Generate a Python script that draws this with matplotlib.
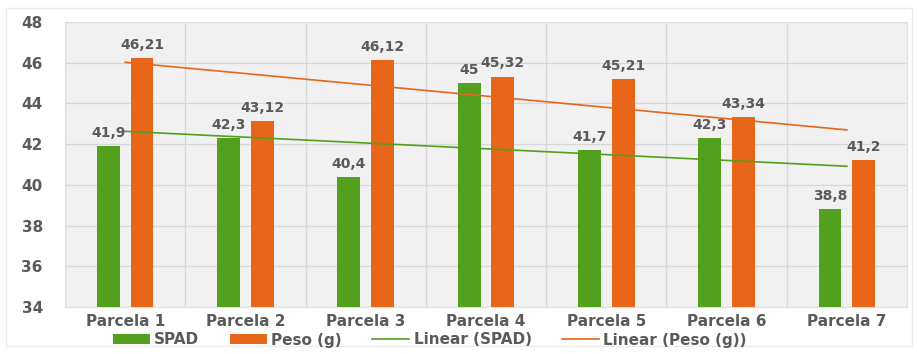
import numpy as np
import matplotlib.pyplot as plt
from matplotlib.patches import Rectangle

parcelas = ['Parcela 1', 'Parcela 2', 'Parcela 3', 'Parcela 4', 'Parcela 5', 'Parcela 6', 'Parcela 7']
spad = [41.9, 42.3, 40.4, 45.0, 41.7, 42.3, 38.8]
peso = [46.21, 43.12, 46.12, 45.32, 45.21, 43.34, 41.2]
spad_lbl = ['41,9', '42,3', '40,4', '45', '41,7', '42,3', '38,8']
peso_lbl = ['46,21', '43,12', '46,12', '45,32', '45,21', '43,34', '41,2']

green = '#52a01e'
orange = '#e8661a'
txt = '#5a5a5a'

fig = plt.figure(figsize=(9.17, 3.54), dpi=100)
fig.patches.append(Rectangle((6 / 917, 8 / 354), 906 / 917, 338 / 354, transform=fig.transFigure,
                             fill=False, edgecolor='#ebebeb', lw=1))
ax = fig.add_axes([65 / 917, 1 - 307 / 354, 842 / 917, 285 / 354])
ax.set_facecolor('#f1f1f1')

x = np.arange(1, len(parcelas) + 1)
w = 0.19
off = 0.14
ax.bar(x - off, spad, w, color=green, label='SPAD', zorder=3)
ax.bar(x + off, peso, w, color=orange, label='Peso (g)', zorder=3)

# linear trend lines (like the spreadsheet trendline)
for vals, col, name in [(spad, green, 'Linear (SPAD)'), (peso, orange, 'Linear (Peso (g))')]:
    a, b = np.polyfit(x, vals, 1)
    ax.plot(x[[0, -1]], a * x[[0, -1]] + b, color=col, lw=1.2, zorder=4, label=name)

for xi, v, s in zip(x - off, spad, spad_lbl):
    ax.text(xi, v + 0.3, s, ha='center', va='bottom', color=txt, fontsize=10, fontweight='bold', zorder=5)
for xi, v, s in zip(x + off, peso, peso_lbl):
    ax.text(xi, v + 0.3, s, ha='center', va='bottom', color=txt, fontsize=10, fontweight='bold', zorder=5)

ax.set_xlim(0.5, 7.5)
ax.set_ylim(34, 48)
ax.set_yticks(range(34, 49, 2))
ax.set_xticks(x)
ax.set_xticklabels(parcelas)
ax.set_xticks(np.arange(0.5, 8, 1), minor=True)
ax.grid(axis='y', which='major', color='#d8d8d8', lw=0.9, zorder=0)
ax.grid(axis='x', which='minor', color='#d8d8d8', lw=0.9, zorder=0)
ax.tick_params(which='both', length=0)
ax.tick_params(axis='y', pad=16, labelsize=11, labelcolor=txt)
ax.tick_params(axis='x', pad=5, labelsize=11, labelcolor=txt)
for lab in ax.get_xticklabels() + ax.get_yticklabels():
    lab.set_fontweight('bold')
for sp in ax.spines.values():
    sp.set_color('#e0e0e0')

handles, labels = ax.get_legend_handles_labels()
order = [2, 3, 0, 1]
leg = fig.legend([handles[i] for i in order], [labels[i] for i in order], loc='center',
                 bbox_to_anchor=(430 / 917, 1 - 340 / 354), ncol=4, frameon=False,
                 handlelength=2.4, handleheight=0.6, handletextpad=0.3, columnspacing=2.0,
                 prop={'size': 11, 'weight': 'bold'})
for t in leg.get_texts():
    t.set_color(txt)

fig.savefig('out.png', dpi=100)
